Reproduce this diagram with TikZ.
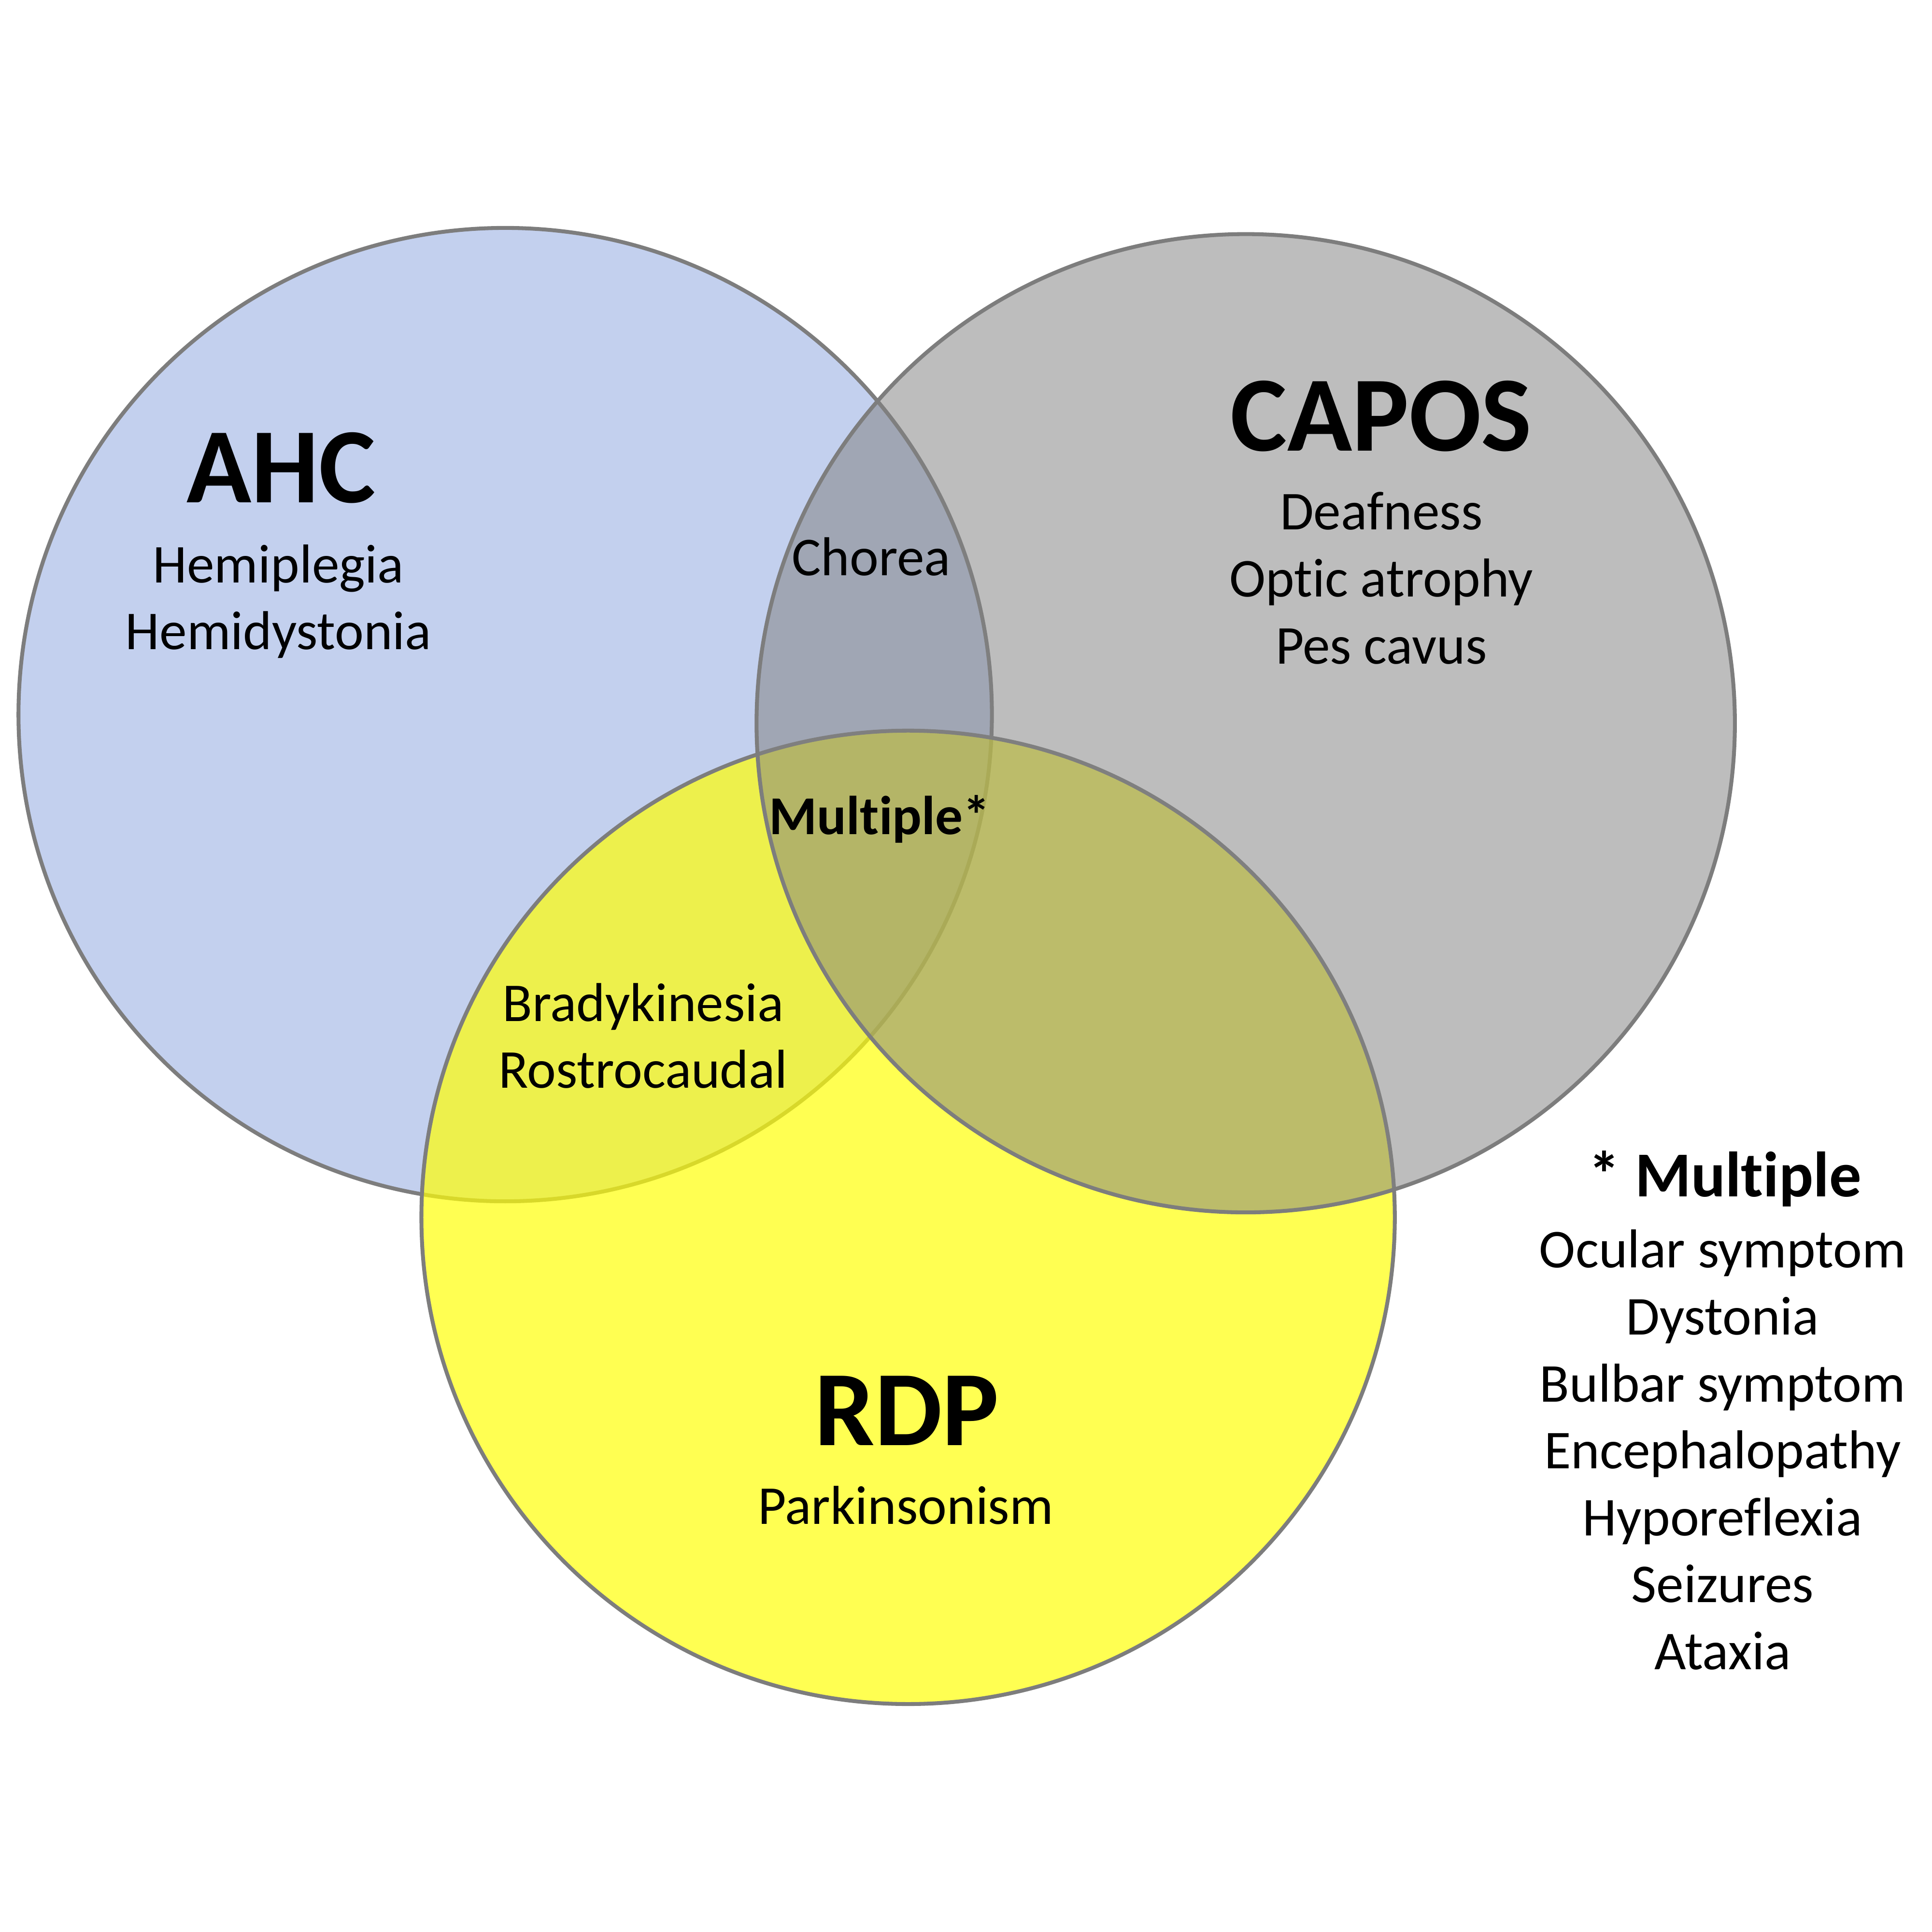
\documentclass[tikz,border=0pt]{standalone}
\usepackage{fontspec}
\setmainfont{Carlito}[Ligatures=NoCommon]
\usepackage{xcolor}
\definecolor{ahcblue}{RGB}{195,208,238}
\definecolor{rdpyellow}{RGB}{255,255,8}
\definecolor{caposgray}{RGB}{129,129,129}
\definecolor{rimgray}{RGB}{125,125,125}
\tikzset{
    Set/.style = {circle,draw=rimgray,line width=0.9pt,inner sep=0pt,minimum size=#1},
    Title/.style = {font=\fontsize{24.7pt}{30pt}\bfseries\selectfont,inner sep=0pt,anchor=base},
    Item/.style = {font=\fontsize{12.65pt}{15.4pt}\selectfont,inner sep=0pt,anchor=base},
    Key/.style = {font=\fontsize{14.8pt}{18pt}\bfseries\selectfont,inner sep=0pt,anchor=base}
}
\begin{document}
\begin{tikzpicture}
        \useasboundingbox (0,0) rectangle (15.68,15.68);
        % the three sets
        \node[Set=7.9cm,fill=ahcblue] (AHC) at (4.10,9.88) {};
        \node[Set=7.9cm,fill=rdpyellow,fill opacity=0.7] (RDP) at (7.37,5.80) {};
        \node[Set=7.94cm,fill=caposgray,fill opacity=0.525] (CAPOS) at (10.11,9.81) {};
        % AHC
        \node[Title] (ahc-title) at (2.28,11.60) {AHC};
        \node[Item] (ahc-1) at (2.26,10.95) {Hemiplegia};
        \node[Item] (ahc-2) at (2.26,10.41) {Hemidystonia};
        % CAPOS
        \node[Title] (capos-title) at (11.21,12.02) {CAPOS};
        \foreach \Sym [count=\i] in {Deafness,Optic atrophy,Pes cavus}
            {\node[Item] (capos-\i) at (11.21,{11.38-0.545*(\i-1)}) {\Sym};}
        % RDP
        \node[Title] (rdp-title) at (7.36,3.95) {RDP};
        \node[Item] (rdp-1) at (7.35,3.31) {Parkinsonism};
        % overlaps
        \node[Item] (chorea) at (7.07,11.01) {Chorea};
        \node[Item,font=\fontsize{12.65pt}{15.4pt}\bfseries\selectfont] (multiple) at (7.14,8.91) {Multiple*};
        \node[Item] (brady) at (5.22,7.39) {Bradykinesia};
        \node[Item] (rostro) at (5.22,6.85) {Rostrocaudal};
        % key for Multiple*
        \node[Key] (key) at (14.00,5.97) {* Multiple};
        \foreach \Sym [count=\i] in {Ocular symptom,Dystonia,Bulbar symptom,Encephalopathy,Hyporeflexia,Seizures,Ataxia}
            {\node[Item] (multi-\i) at (13.98,{5.39-0.543*(\i-1)}) {\Sym};}
\end{tikzpicture}
\end{document}
